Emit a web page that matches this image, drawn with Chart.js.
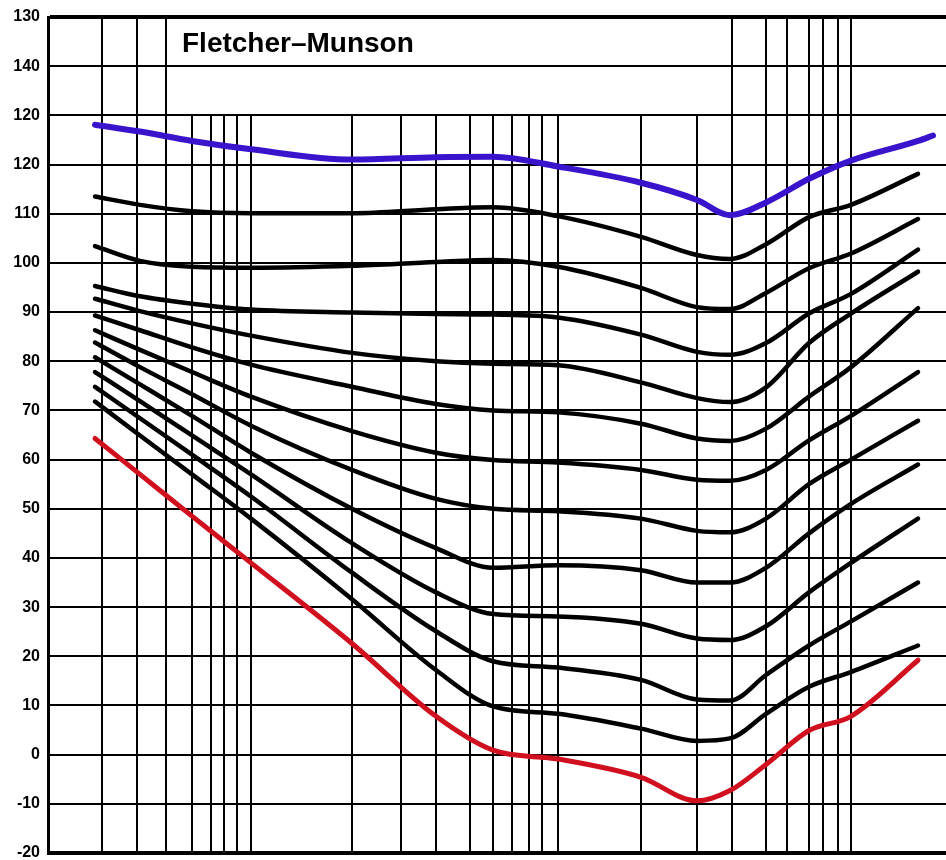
<!DOCTYPE html>
<html>
<head>
<meta charset="utf-8">
<script src="https://cdn.jsdelivr.net/npm/chart.js@4.4.1/dist/chart.umd.min.js"></script>
<style>
  html, body { margin: 0; padding: 0; background: #fff; }
  #wrap { width: 946px; height: 860px; }
</style>
</head>
<body>
<div id="wrap"><canvas id="chart"></canvas></div>
<script>
// position along the frequency axis (chart units, 0 = left frame)
var freqPos = [47, 92, 144, 203, 304, 388, 445, 510, 593, 649, 682, 718, 761, 803, 870, 885];

var phon120 = [128.1, 126.7, 124.8, 123.1, 121.0, 121.5, 121.6, 119.6, 116.3, 112.8, 109.7, 112.3, 117.1, 120.8, 124.8, 125.9];
var phon110 = [113.5, 111.8, 110.5, 110.1, 110.1, 110.9, 111.3, 109.5, 105.3, 101.6, 100.8, 103.8, 109.3, 111.8, 118.1, null];
var phon100 = [103.4, 100.4, 99.2, 99.0, 99.4, 100.2, 100.6, 99.2, 94.9, 91.0, 90.6, 93.9, 98.9, 101.9, 108.9, null];
var phon90 = [95.3, 93.2, 91.7, 90.5, 89.9, 89.6, 89.5, 88.9, 85.4, 81.9, 81.3, 83.7, 89.7, 93.7, 102.7, null];
var phon80 = [92.7, 90.2, 87.7, 85.2, 81.7, 80.0, 79.5, 79.2, 75.7, 72.5, 71.7, 74.7, 83.7, 89.7, 98.2, null];
var phon70 = [89.3, 86.3, 82.8, 79.3, 74.8, 71.3, 70.0, 69.6, 67.3, 64.3, 63.8, 66.3, 72.8, 78.8, 90.8, null];
var phon60 = [86.3, 82.3, 77.8, 72.8, 65.8, 61.4, 59.9, 59.4, 57.9, 55.9, 55.7, 57.9, 63.9, 68.9, 77.8, null];
var phon50 = [83.8, 78.8, 73.3, 66.9, 57.9, 52.0, 50.0, 49.5, 48.0, 45.5, 45.2, 48.0, 55.0, 60.0, 67.9, null];
var phon40 = [80.8, 75.3, 68.9, 61.4, 50.0, 42.0, 38.0, 38.5, 37.5, 35.0, 35.0, 38.0, 45.0, 51.0, 59.0, null];
var phon30 = [77.8, 71.9, 64.9, 57.0, 43.0, 33.0, 28.6, 28.1, 26.6, 23.6, 23.3, 26.1, 33.0, 39.0, 48.0, null];
var phon20 = [74.8, 68.4, 61.0, 52.5, 37.0, 25.1, 19.0, 17.7, 15.2, 11.2, 11.0, 16.2, 22.2, 27.1, 35.0, null];
var phon10 = [71.8, 64.9, 57.0, 48.0, 31.6, 17.2, 9.8, 8.3, 5.3, 2.8, 3.3, 8.3, 13.8, 16.8, 22.2, null];
var threshold = [64.3, 57.0, 48.5, 39.0, 22.6, 7.8, 0.9, -0.9, -4.6, -9.4, -7.3, -2.0, 4.9, 7.8, 19.2, null];

// vertical grid lines: full height, and the ones that stop at the 130 line
var gridFull = [54, 89, 118, 684, 718, 739, 761, 775, 790, 803];
var gridShort = [144, 163, 176, 189, 203, 304, 353, 388, 422, 445, 464, 481, 494, 510, 593, 649];

var yTickValues = [-20, -10, 0, 10, 20, 30, 40, 50, 60, 70, 80, 90, 100, 110, 120, 130, 140, 150];
var yTickLabels = ['-20', '-10', '0', '10', '20', '30', '40', '50', '60', '70', '80', '90', '100', '110', '120', '120', '140', '130'];

function pts(vals) {
    return vals.map(function (v, i) { return { x: freqPos[i], y: v }; });
}

function curve(vals, color, width) {
    return {
        data: pts(vals),
        borderColor: color,
        borderWidth: width,
        pointRadius: 0,
        cubicInterpolationMode: 'monotone',
        borderCapStyle: 'round',
        borderJoinStyle: 'round',
        fill: false
    };
}

var frequencyGrid = {
    id: 'frequencyGrid',
    beforeDatasetsDraw: function (chart) {
        var ctx = chart.ctx, xs = chart.scales.x, ys = chart.scales.y, area = chart.chartArea;
        ctx.save();
        ctx.strokeStyle = '#000';
        ctx.lineWidth = 2;
        gridFull.forEach(function (p) {
            var px = xs.getPixelForValue(p);
            ctx.beginPath(); ctx.moveTo(px, area.top); ctx.lineTo(px, area.bottom); ctx.stroke();
        });
        var shortTop = ys.getPixelForValue(130);
        gridShort.forEach(function (p) {
            var px = xs.getPixelForValue(p);
            ctx.beginPath(); ctx.moveTo(px, shortTop); ctx.lineTo(px, area.bottom); ctx.stroke();
        });
        ctx.fillStyle = '#000';
        ctx.font = 'bold 28px "Liberation Sans", Arial, sans-serif';
        ctx.textBaseline = 'alphabetic';
        ctx.fillText('Fletcher\u2013Munson', xs.getPixelForValue(134), ys.getPixelForValue(142.9));
        ctx.restore();
    }
};

new Chart(document.getElementById('chart'), {
    type: 'line',
    data: {
        datasets: [
            curve(phon120, '#3a14cc', 6),
            curve(phon110, '#000', 4.5),
            curve(phon100, '#000', 4.5),
            curve(phon90, '#000', 4.5),
            curve(phon80, '#000', 4.5),
            curve(phon70, '#000', 4.5),
            curve(phon60, '#000', 4.5),
            curve(phon50, '#000', 4.5),
            curve(phon40, '#000', 4.5),
            curve(phon30, '#000', 4.5),
            curve(phon20, '#000', 4.5),
            curve(phon10, '#000', 4.5),
            curve(threshold, '#d0101e', 5)
        ]
    },
    options: {
        responsive: true,
        maintainAspectRatio: false,
        animation: false,
        layout: { padding: { top: 17, bottom: 7, left: 0, right: 0 } },
        plugins: { legend: { display: false }, tooltip: { enabled: false } },
        scales: {
            x: {
                type: 'linear',
                min: 0,
                max: 898,
                display: false
            },
            y: {
                type: 'linear',
                min: -20,
                max: 150,
                afterBuildTicks: function (scale) {
                    scale.ticks = yTickValues.map(function (v) { return { value: v }; });
                },
                afterFit: function (scale) {
                    scale.width = 48;
                    scale.paddingTop = 0;
                    scale.paddingBottom = 0;
                },
                ticks: {
                    color: '#000',
                    padding: 8,
                    font: { family: '"Liberation Sans", Arial, sans-serif', size: 16, weight: 'bold' },
                    callback: function (value) {
                        return yTickLabels[yTickValues.indexOf(value)];
                    }
                },
                grid: {
                    color: '#000',
                    drawTicks: false,
                    lineWidth: function (c) {
                        return (c.tick && (c.tick.value === -20 || c.tick.value === 150)) ? 4 : 2;
                    }
                },
                border: { display: true, color: '#000', width: 3 }
            }
        }
    },
    plugins: [frequencyGrid]
});
</script>
</body>
</html>
